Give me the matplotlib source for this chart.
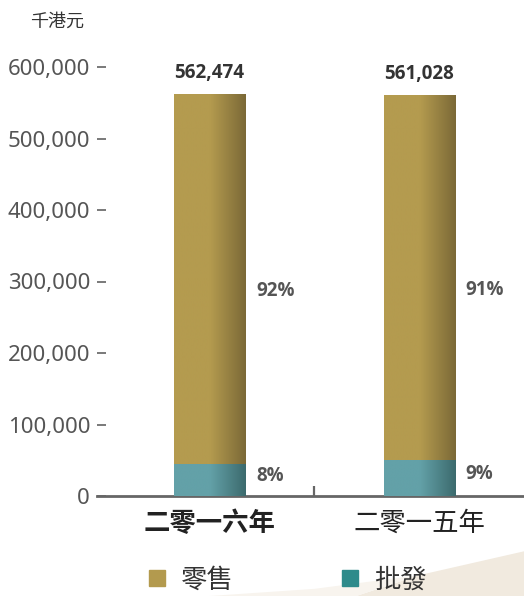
import matplotlib
matplotlib.use("Agg")
import matplotlib.pyplot as plt
import numpy as np
from matplotlib.colors import LinearSegmentedColormap
from matplotlib.lines import Line2D
from matplotlib.patches import Polygon
from matplotlib.ticker import FuncFormatter

plt.rcParams['font.family'] = ['Noto Sans', 'Noto Sans CJK TC', 'DejaVu Sans']

# ---- data ----
categories = ["二零一六年", "二零一五年"]
retail = [517474, 510528]
wholesale = [45000, 50500]
totals = [562474, 561028]
retail_pct = ["92%", "91%"]
wholesale_pct = ["8%", "9%"]
series_names = ["零售", "批發"]
unit_label = "千港元"
yticks = [0, 100000, 200000, 300000, 400000, 500000, 600000]

gold_light, gold_dark = "#b49b4f", "#7b6937"
teal_light, teal_dark = "#63a1a8", "#3c6a6d"
gold_legend, teal_legend = "#b39a4e", "#2e8b8b"
text_gray = "#555555"
bold_family = ["Open Sans", "Lato", "DejaVu Sans"]

fig = plt.figure(figsize=(5.24, 5.96), dpi=100)
fig.patch.set_facecolor("white")

# faint beige swoosh in background
bg = fig.add_axes([0, 0, 1, 1], zorder=-5)
bg.set_xlim(0, 1); bg.set_ylim(0, 1); bg.axis("off")
bg.add_patch(Polygon([(0.68, 0.0), (0.80, 0.035), (1.0, 0.075), (1.0, 0.0)],
                     closed=True, facecolor="#f1eadf", edgecolor="none"))
bg.add_patch(Polygon([(0.40, 0.0), (0.68, 0.0), (0.80, 0.035), (0.60, 0.012)],
                     closed=True, facecolor="#f8f4ee", edgecolor="none"))

ax = fig.add_axes([97/524, 100/596, 1 - 97/524, (496-67)/596])
ax.patch.set_alpha(0)

x = np.arange(len(categories))
width = 0.339
b1 = ax.bar(x, wholesale, width, color=teal_light, zorder=2)
b2 = ax.bar(x, retail, width, bottom=wholesale, color=gold_light, zorder=2)

grad = np.linspace(0, 1, 256).reshape(1, -1)
for bars, (cl, cd) in ((b1, (teal_light, teal_dark)), (b2, (gold_light, gold_dark))):
    cmap = LinearSegmentedColormap.from_list("g", [(0, cl), (0.5, cl), (1, cd)])
    for p in bars:
        bx, by = p.get_x(), p.get_y()
        bw, bh = p.get_width(), p.get_height()
        im = ax.imshow(grad, extent=[bx, bx + bw, by, by + bh], aspect="auto",
                       cmap=cmap, zorder=3, interpolation="bilinear")
        im.set_clip_path(p)

ax.set_xlim(-0.537, 1.501)
ax.set_ylim(0, 600000)

# total labels
for i, t in enumerate(totals):
    ax.annotate(f"{t:,}", (x[i], t), xytext=(0, 8), textcoords="offset points",
                ha="center", va="bottom", fontsize=13.5, fontweight="bold",
                family=bold_family, color="#333333", annotation_clip=False)
# percentage labels
for i in range(len(categories)):
    ax.annotate(retail_pct[i], (x[i] + width/2, wholesale[i] + retail[i]/2),
                xytext=(8, -9), textcoords="offset points", ha="left", va="center",
                fontsize=13.5, fontweight="bold", family=bold_family, color=text_gray)
    ax.annotate(wholesale_pct[i], (x[i] + width/2, wholesale[i]/2),
                xytext=(8, 3), textcoords="offset points", ha="left", va="center",
                fontsize=13.5, fontweight="bold", family=bold_family, color=text_gray)

# axes styling
for s in ("left", "top", "right"):
    ax.spines[s].set_visible(False)
ax.spines["bottom"].set_color("#666666")
ax.spines["bottom"].set_linewidth(2.0)

ax.set_yticks(yticks)
ax.yaxis.set_major_formatter(FuncFormatter(lambda v, p: f"{int(v):,}"))
ax.tick_params(axis="y", direction="in", length=6.5, width=1.1, color=text_gray,
               labelsize=16, labelcolor=text_gray, pad=5)

ax.set_xticks(x)
ax.set_xticklabels(categories)
ax.set_xticks([0.5], minor=True)
ax.tick_params(axis="x", which="major", length=0, pad=10, labelsize=19,
               labelcolor="#222222")
ax.tick_params(axis="x", which="minor", direction="in", length=7, width=1.6,
               color="#666666")
for lbl in ax.get_xticklabels():
    lbl.set_fontfamily(["Noto Sans CJK TC"])
ax.get_xticklabels()[0].set_fontweight("bold")

fig.text(57/524, 1 - 22/596, unit_label, ha="center", va="center", fontsize=13,
         color="#333333", family=["Noto Sans CJK TC"])

handles = [Line2D([], [], marker="s", linestyle="", color=gold_legend, markersize=11),
           Line2D([], [], marker="s", linestyle="", color=teal_legend, markersize=11)]
leg = fig.legend(handles, series_names, loc="center", bbox_to_anchor=(0.547, 0.027),
                 ncol=2, frameon=False, handlelength=0.8, handletextpad=0.5,
                 columnspacing=4.0, prop={"family": ["Noto Sans CJK TC"], "size": 19})
for t in leg.get_texts():
    t.set_color("#333333")

fig.savefig("out.png", dpi=100)
